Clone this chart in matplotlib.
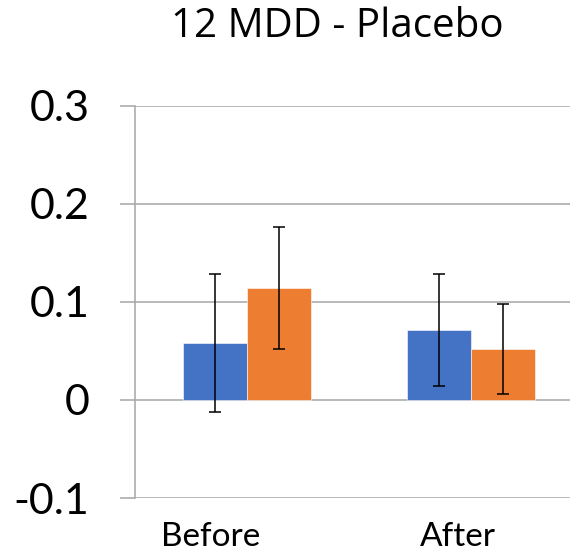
import numpy as np
import matplotlib
matplotlib.use('Agg')
import matplotlib.pyplot as plt
from matplotlib.transforms import ScaledTranslation

# data
categories = ['Before', 'After']
blue_vals = [0.058, 0.071]
orange_vals = [0.114, 0.052]
blue_err = [0.070, 0.057]
orange_err = [0.062, 0.046]

plt.rcParams['font.family'] = ['Lato', 'DejaVu Sans']

fig = plt.figure(figsize=(5.70, 5.55), dpi=100)
ax = fig.add_axes([0.2368, 0.1027, 0.786, 0.7072])

x = np.arange(len(categories))
w = 0.2857
grid_col = '#A6A6A6'

ax.bar(x - w / 2, blue_vals, w, color='#4472C4', edgecolor='white', linewidth=0.4, zorder=2)
ax.bar(x + w / 2, orange_vals, w, color='#ED7D31', edgecolor='white', linewidth=0.4, zorder=2)
ax.errorbar(x - w / 2, blue_vals, yerr=blue_err, fmt='none', ecolor='black',
            elinewidth=1.1, capsize=4.3, capthick=1.1, zorder=3)
ax.errorbar(x + w / 2, orange_vals, yerr=orange_err, fmt='none', ecolor='black',
            elinewidth=1.1, capsize=4.3, capthick=1.1, zorder=3)

ax.set_xlim(-0.5, 1.5)
ax.set_ylim(-0.1, 0.3)
ax.set_yticks([-0.1, 0, 0.1, 0.2, 0.3])
ax.set_yticklabels(['-0.1', '0', '0.1', '0.2', '0.3'], fontsize=31)
ax.yaxis.grid(True, color=grid_col, linewidth=1.1, zorder=0)
ax.set_axisbelow(True)
ax.tick_params(axis='y', length=10.8, width=1.1, color=grid_col, pad=22)

ax.set_xticks(x)
ax.set_xticklabels(categories, fontsize=24)
ax.tick_params(axis='x', length=0, pad=17)
# shift category labels like in the reference
for lab, dx in zip(ax.get_xticklabels(), [-0.36, -0.13]):
    lab.set_transform(lab.get_transform() + ScaledTranslation(dx, 0, fig.dpi_scale_trans))

for s in ['top', 'right', 'bottom']:
    ax.spines[s].set_visible(False)
ax.spines['left'].set_color(grid_col)
ax.spines['left'].set_linewidth(1.1)

fig.text(337 / 570, 1 - 27 / 555, '12 MDD - Placebo', fontsize=29,
         family=['Open Sans', 'DejaVu Sans'], ha='center', va='center')

fig.savefig('out.png', dpi=100)
